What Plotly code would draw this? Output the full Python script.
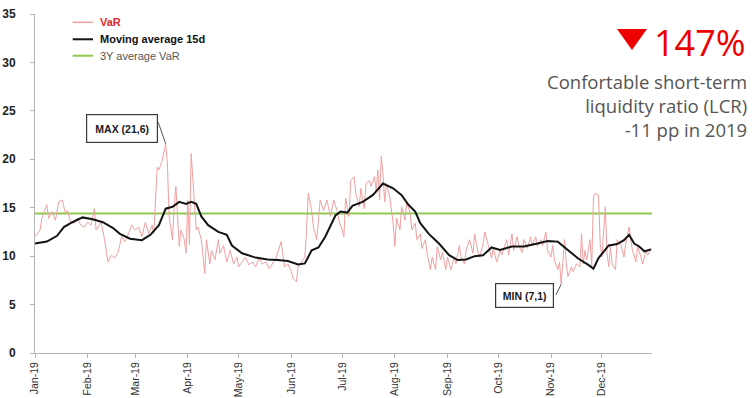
import plotly.graph_objects as go

# ---- daily VaR (EUR mn) ----
var_dates = [
    "2019-01-01", "2019-01-04", "2019-01-05", "2019-01-08", "2019-01-09", "2019-01-11", "2019-01-13", "2019-01-15",
    "2019-01-17", "2019-01-19", "2019-01-20", "2019-01-22", "2019-01-24", "2019-01-26", "2019-01-28", "2019-01-30",
    "2019-02-01", "2019-02-03", "2019-02-05", "2019-02-06", "2019-02-09", "2019-02-11", "2019-02-13", "2019-02-15",
    "2019-02-17", "2019-02-19", "2019-02-21", "2019-02-23", "2019-02-25", "2019-02-27",
    "2019-03-01", "2019-03-03", "2019-03-05", "2019-03-07", "2019-03-09", "2019-03-11", "2019-03-12", "2019-03-14",
    "2019-03-15", "2019-03-17", "2019-03-19", "2019-03-20", "2019-03-21", "2019-03-23", "2019-03-24", "2019-03-25",
    "2019-03-27", "2019-03-28", "2019-03-30", "2019-03-31",
    "2019-04-01", "2019-04-02", "2019-04-03", "2019-04-04", "2019-04-06", "2019-04-07", "2019-04-09", "2019-04-11",
    "2019-04-12", "2019-04-14", "2019-04-15", "2019-04-17", "2019-04-19", "2019-04-20", "2019-04-22", "2019-04-24",
    "2019-04-26", "2019-04-28", "2019-04-30",
    "2019-05-01", "2019-05-03", "2019-05-05", "2019-05-07", "2019-05-09", "2019-05-11", "2019-05-13", "2019-05-15",
    "2019-05-17", "2019-05-19", "2019-05-21", "2019-05-23", "2019-05-26", "2019-05-27", "2019-05-28", "2019-05-30",
    "2019-06-01", "2019-06-02", "2019-06-04", "2019-06-05", "2019-06-07", "2019-06-09", "2019-06-10", "2019-06-11",
    "2019-06-13", "2019-06-14", "2019-06-16", "2019-06-18", "2019-06-20", "2019-06-22", "2019-06-24", "2019-06-26",
    "2019-06-28", "2019-06-29",
    "2019-07-01", "2019-07-02", "2019-07-03", "2019-07-05", "2019-07-06", "2019-07-08", "2019-07-09", "2019-07-11",
    "2019-07-12", "2019-07-14", "2019-07-15", "2019-07-17", "2019-07-18", "2019-07-20", "2019-07-21", "2019-07-22",
    "2019-07-23", "2019-07-24", "2019-07-25", "2019-07-26", "2019-07-27", "2019-07-29", "2019-07-31",
    "2019-08-01", "2019-08-02", "2019-08-04", "2019-08-05", "2019-08-07", "2019-08-08", "2019-08-10", "2019-08-11",
    "2019-08-13", "2019-08-14", "2019-08-16", "2019-08-17", "2019-08-19", "2019-08-20", "2019-08-22", "2019-08-23",
    "2019-08-25", "2019-08-26", "2019-08-28", "2019-08-29", "2019-08-31",
    "2019-09-01", "2019-09-03", "2019-09-05", "2019-09-06", "2019-09-08", "2019-09-09", "2019-09-11", "2019-09-12",
    "2019-09-14", "2019-09-16", "2019-09-17", "2019-09-19", "2019-09-20", "2019-09-22", "2019-09-23", "2019-09-25",
    "2019-09-27", "2019-09-28", "2019-09-30",
    "2019-10-02", "2019-10-03", "2019-10-06", "2019-10-07", "2019-10-09", "2019-10-10", "2019-10-12", "2019-10-13",
    "2019-10-15", "2019-10-16", "2019-10-18", "2019-10-20", "2019-10-21", "2019-10-23", "2019-10-24", "2019-10-26",
    "2019-10-27", "2019-10-29", "2019-10-30",
    "2019-11-01", "2019-11-02", "2019-11-03", "2019-11-05", "2019-11-06", "2019-11-07", "2019-11-09", "2019-11-10",
    "2019-11-11", "2019-11-13", "2019-11-14", "2019-11-16", "2019-11-18", "2019-11-19", "2019-11-20", "2019-11-21",
    "2019-11-22", "2019-11-24", "2019-11-25", "2019-11-26", "2019-11-27", "2019-11-29", "2019-11-30",
    "2019-12-01", "2019-12-02", "2019-12-03", "2019-12-04", "2019-12-05", "2019-12-06", "2019-12-07", "2019-12-09",
    "2019-12-10", "2019-12-12", "2019-12-14", "2019-12-15", "2019-12-17", "2019-12-18", "2019-12-19", "2019-12-21",
    "2019-12-22", "2019-12-24", "2019-12-25", "2019-12-27", "2019-12-28", "2019-12-30",
]
var_values = [
    12.0, 12.7, 13.9, 15.3, 13.9, 14.6, 13.7, 15.6, 15.8, 14.4, 14.7, 13.5, 13.4, 13.9, 13.2, 13.0,
    13.5, 13.2, 14.9, 12.7, 13.5, 11.7, 9.4, 10.1, 9.8, 10.4, 12.0, 11.5, 12.3, 13.2,
    12.7, 13.0, 12.0, 13.5, 12.3, 13.2, 12.3, 19.2, 18.9, 19.9, 21.6, 19.6, 14.1, 11.7, 15.1, 17.2,
    11.0, 12.7, 11.7, 10.3,
    15.8, 11.2, 20.6, 17.8, 12.7, 13.0, 11.7, 8.2, 11.7, 9.2, 10.6, 9.6, 11.7, 10.3, 11.1, 9.4, 10.6, 9.2, 9.9,
    8.9, 9.4, 9.9, 9.1, 9.4, 8.9, 9.8, 9.2, 9.4, 8.7, 9.2, 9.8, 11.5, 9.9, 8.9, 9.2,
    8.4, 7.7, 7.35, 8.9, 9.4, 9.9, 12.7, 16.5, 14.7, 13.0, 11.7, 15.8, 14.7, 15.8, 14.1, 15.8, 14.7, 13.7,
    12.7, 12.0, 16.0, 14.1, 17.8, 18.2, 16.5, 15.1, 17.0, 14.9, 17.5, 17.8, 17.2, 18.2, 16.8, 18.9,
    15.8, 20.3, 18.5, 15.6, 17.5, 16.1, 13.4,
    11.0, 13.9, 12.7, 15.1, 13.7, 15.6, 14.4, 12.7, 13.4, 11.7, 12.3, 10.8, 11.7, 10.3, 8.6, 9.9,
    8.6, 11.0, 9.6, 10.4, 8.6,
    9.9, 8.6, 9.9, 9.2, 11.1, 9.9, 9.2, 10.6, 11.7, 10.3, 12.3, 10.4, 9.9, 11.3, 12.5, 11.1, 9.8, 10.8, 9.4,
    10.6, 10.1, 11.7, 10.1, 12.3, 10.6, 12.0, 11.1, 10.4, 11.7, 10.8, 12.0, 11.1, 12.0, 11.0, 11.7,
    11.1, 12.5, 10.6,
    9.9, 11.1, 9.6, 8.6, 9.4, 7.1, 11.7, 9.2, 7.9, 8.9, 8.4, 9.2, 8.9, 12.3, 9.2, 10.6,
    9.6, 11.7, 8.9, 16.1, 16.5, 16.3, 11.3,
    9.9, 12.3, 15.1, 10.3, 8.9, 11.0, 9.2, 8.6, 11.7, 11.3, 9.9, 11.3, 13.0, 11.7, 10.6, 9.4,
    11.0, 9.9, 9.2, 10.6, 10.1, 10.8,
]
assert len(var_dates) == len(var_values)

# ---- 15-day moving average ----
ma_dates = [
    "2019-01-01", "2019-01-08", "2019-01-14", "2019-01-18", "2019-01-23", "2019-01-29", "2019-02-04", "2019-02-10",
    "2019-02-16", "2019-02-20", "2019-02-26", "2019-03-05", "2019-03-10", "2019-03-15", "2019-03-19", "2019-03-23",
    "2019-03-27", "2019-03-31", "2019-04-03", "2019-04-06", "2019-04-09", "2019-04-13", "2019-04-19", "2019-04-24",
    "2019-04-27", "2019-05-03", "2019-05-10", "2019-05-18", "2019-05-24", "2019-05-30", "2019-06-05", "2019-06-09",
    "2019-06-13", "2019-06-17", "2019-06-21", "2019-06-27", "2019-06-30", "2019-07-04", "2019-07-07", "2019-07-13",
    "2019-07-19", "2019-07-25", "2019-07-31", "2019-08-05", "2019-08-09", "2019-08-13", "2019-08-16", "2019-08-21",
    "2019-08-27", "2019-09-02", "2019-09-07", "2019-09-12", "2019-09-17", "2019-09-22", "2019-09-27", "2019-10-02",
    "2019-10-09", "2019-10-16", "2019-10-24", "2019-10-30", "2019-11-05", "2019-11-11", "2019-11-17", "2019-11-23",
    "2019-11-26", "2019-11-29", "2019-12-05", "2019-12-10", "2019-12-14", "2019-12-17", "2019-12-20", "2019-12-23",
    "2019-12-26", "2019-12-30",
]
ma_values = [
    11.3, 11.5, 12.1, 13.0, 13.5, 14.0, 13.8, 13.5,
    12.9, 12.3, 11.8, 11.65, 12.2, 13.2, 14.9, 15.1,
    15.6, 15.4, 15.6, 15.4, 14.1, 13.2, 12.5, 12.2,
    11.1, 10.3, 9.9, 9.65, 9.6, 9.5, 9.15, 9.25,
    10.6, 10.9, 12.0, 14.2, 14.6, 14.5, 15.2, 15.6,
    16.3, 17.5, 17.0, 16.3, 15.3, 14.6, 13.4, 12.3,
    11.3, 10.1, 9.6, 9.65, 10.0, 10.1, 10.9, 10.65,
    11.0, 11.0, 11.3, 11.55, 11.5, 10.6, 9.75, 9.1,
    8.7, 9.8, 11.1, 11.25, 11.65, 12.2, 11.3, 11.0,
    10.5, 10.7,
]
assert len(ma_dates) == len(ma_values)

# ---- 3-year average VaR ----
avg_3y_value = 14.4
avg_3y_dates = ["2019-01-01", "2019-12-31"]

month_ticks = ["2019-%02d-01" % m for m in range(1, 13)]

legend_labels = ["VaR", "Moving average 15d", "3Y average VaR"]
headline_value = "147%"
headline_lines = ["Confortable short-term", "liquidity ratio (LCR)", "-11 pp in 2019"]

VAR_COLOR = "rgb(240,160,160)"
MA_COLOR = "#141414"
AVG_COLOR = "rgb(146,200,80)"
RED = "rgb(236,0,0)"

fig = go.Figure()
fig.add_trace(go.Scatter(x=avg_3y_dates, y=[avg_3y_value] * len(avg_3y_dates), mode="lines",
                         line=dict(color=AVG_COLOR, width=2), name=legend_labels[2], hoverinfo="skip"))
fig.add_trace(go.Scatter(x=var_dates, y=var_values, mode="lines",
                         line=dict(color=VAR_COLOR, width=1), name=legend_labels[0]))
fig.add_trace(go.Scatter(x=ma_dates, y=ma_values, mode="lines",
                         line=dict(color=MA_COLOR, width=2), name=legend_labels[1]))

# max / min call-outs, tied to the VaR series
i_max = max(range(len(var_values)), key=lambda i: var_values[i])
i_min = min(range(len(var_values)), key=lambda i: var_values[i])


def fmt(v):
    return ("%.1f" % v).replace(".", ",")


box = dict(showarrow=False, font=dict(family="Liberation Sans", size=10.5, color="#1a1a1a", weight="bold"),
           bgcolor="white", bordercolor="#3a3a3a", borderwidth=1.2, borderpad=1)
annotations = [
    dict(x=var_dates[i_max], y=var_values[i_max], xref="x", yref="y", text="MAX (%s)" % fmt(var_values[i_max]),
         xshift=-44, yshift=15, width=68, height=25, **box),
    dict(x=var_dates[i_max], y=var_values[i_max], xref="x", yref="y", text="", showarrow=True,
         arrowhead=0, arrowwidth=1, arrowcolor="#555", ax=-8, ay=-23),
    dict(x=var_dates[i_min], y=var_values[i_min], xref="x", yref="y", text="MIN (%s)" % fmt(var_values[i_min]),
         xshift=-37, yshift=-11, width=55, height=21, **box),
    dict(x=var_dates[i_min], y=var_values[i_min], xref="x", yref="y", text="", showarrow=True,
         arrowhead=0, arrowwidth=1, arrowcolor="#555", ax=-6, ay=12),
]

# legend drawn as short line samples with labels
legend_y = [0.9755, 0.9254, 0.8770]
legend_colors = [VAR_COLOR, MA_COLOR, AVG_COLOR]
legend_widths = [1.5, 2, 2]
legend_text = [
    "<b><span style='color:rgb(228,40,40)'>%s</span></b>" % legend_labels[0],
    "<b><span style='color:#111'>%s</span></b>" % legend_labels[1],
    "<span style='color:#555'>%s</span>" % legend_labels[2],
]
shapes = []
for yy, col, w, txt in zip(legend_y, legend_colors, legend_widths, legend_text):
    shapes.append(dict(type="line", xref="paper", yref="paper", x0=0.0611, x1=0.0940, y0=yy, y1=yy,
                       line=dict(color=col, width=w)))
    annotations.append(dict(xref="paper", yref="paper", x=0.1021, y=yy, text=txt, showarrow=False,
                            xanchor="left", yanchor="middle",
                            font=dict(family="Liberation Sans", size=11)))

# headline block on the right
shapes.append(dict(type="path", xref="paper", yref="paper",
                   path="M 0.9433 0.9558 L 0.9919 0.9558 L 0.9676 0.8938 Z",
                   fillcolor=RED, line=dict(width=0)))
annotations.append(dict(xref="paper", yref="paper", x=1.1556, y=0.9145, text=headline_value, showarrow=False,
                        xanchor="right", yanchor="middle",
                        font=dict(family="Open Sans", size=36, color=RED)))
annotations.append(dict(xref="paper", yref="paper", x=1.1556, y=(353 - 105) / 339,
                        text="<br>".join(headline_lines), showarrow=False, align="right",
                        xanchor="right", yanchor="middle", borderpad=0,
                        font=dict(family="Open Sans", size=18.5, color="#555555")))

fig.update_layout(
    width=753, height=398,
    margin=dict(l=35, r=101, t=14, b=45),
    paper_bgcolor="white", plot_bgcolor="white",
    showlegend=False,
    shapes=shapes, annotations=annotations,
    xaxis=dict(type="date", range=["2019-01-01", "2019-12-30 12:00"], tickvals=month_ticks,
               tickformat="%b-%y", tickangle=-90, showgrid=False, zeroline=False, automargin=False,
               showline=True, linecolor="#b5b5b5", linewidth=1, ticks="outside", ticklen=4,
               tickcolor="#b5b5b5", tickfont=dict(family="Liberation Sans", size=10.5, color="#333")),
    yaxis=dict(range=[0, 35], dtick=5, showgrid=False, zeroline=False, showline=True, automargin=False,
               linecolor="#b5b5b5", linewidth=1, ticks="outside", ticklen=4, tickcolor="#b5b5b5",
               ticklabelstandoff=12,
               tickfont=dict(family="Liberation Sans", size=12, color="#222", weight="bold")),
)

fig.write_html("out.html")
